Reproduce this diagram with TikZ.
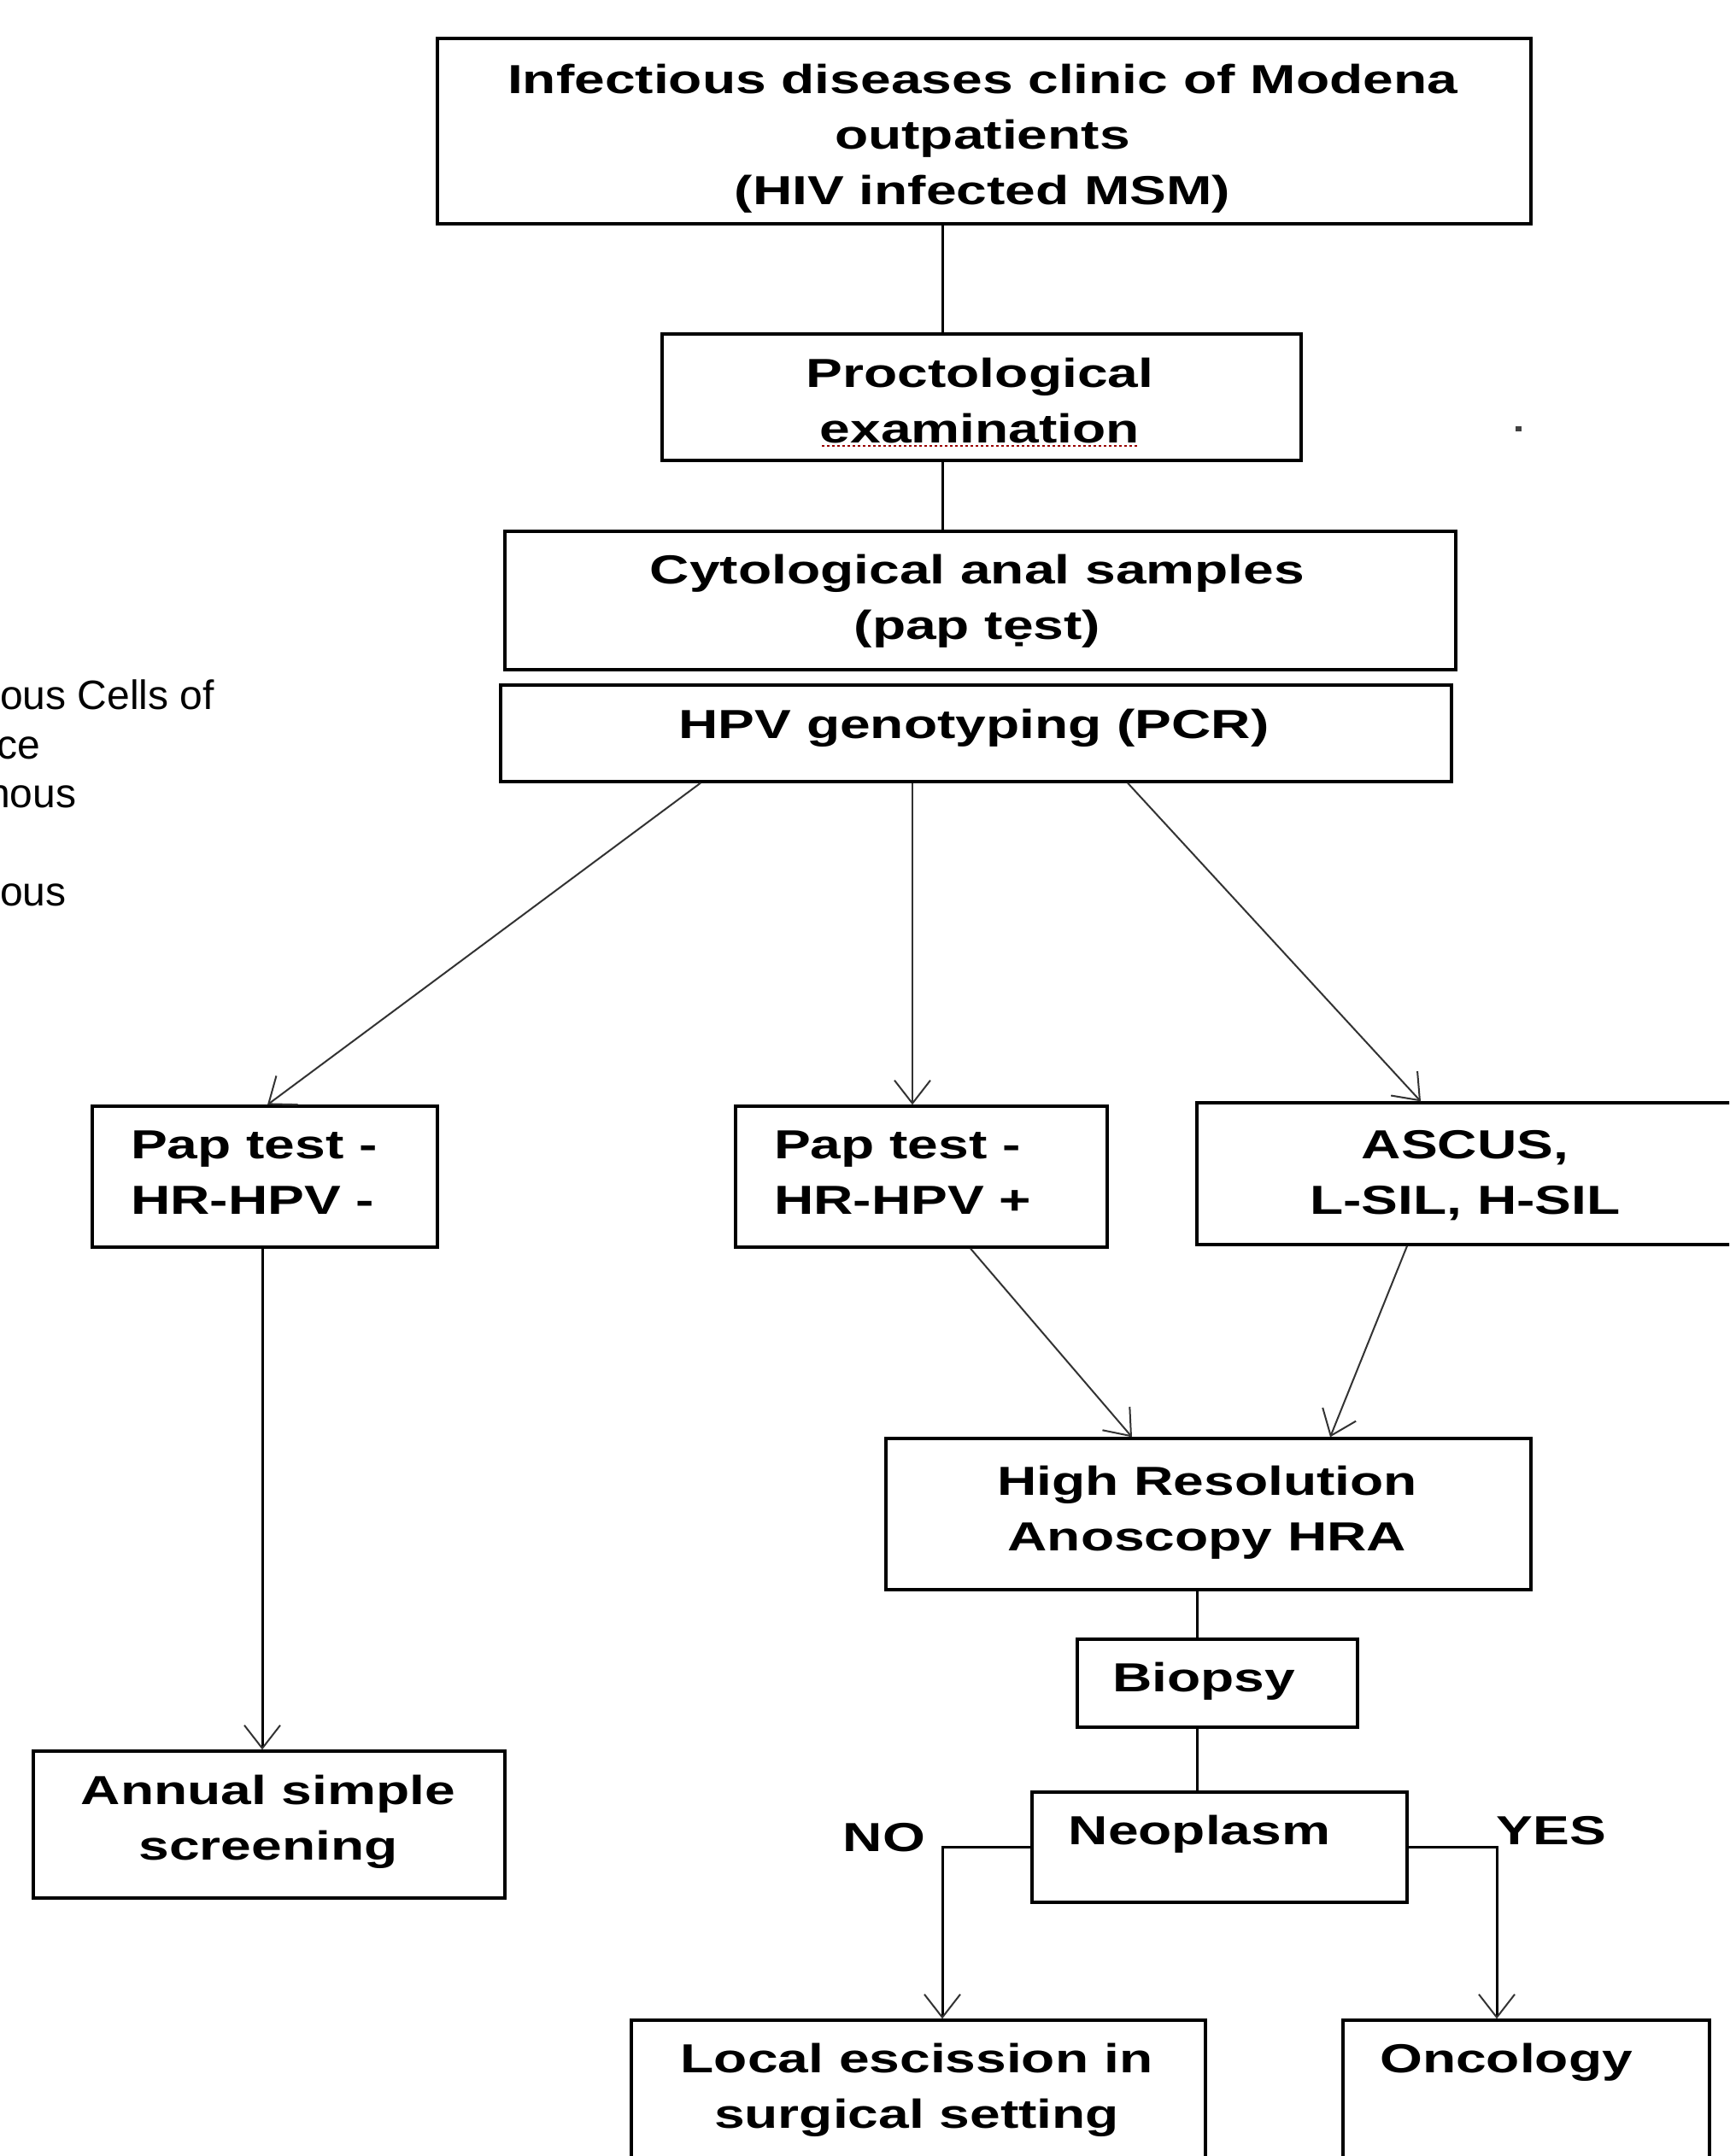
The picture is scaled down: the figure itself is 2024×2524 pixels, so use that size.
\documentclass[tikz,border=0pt]{standalone}
\usepackage{fontspec}
\setmainfont{Liberation Sans}
\newfontfamily\boxfont[FakeStretch=1.35]{Liberation Sans}
\usetikzlibrary{arrows.meta}
\newcommand\firststrut{\rule{0pt}{38pt}}
\tikzset{
  box/.style={draw, line width=3.3pt, inner sep=0pt},
  btxt/.style={font=\boxfont\bfseries\fontsize{47.5}{65}\selectfont, inner sep=0pt, align=center},
  conn/.style={line width=3pt},
  vtip/.style={-{Straight Barb[length=27pt,width=42pt,line width=2pt,color=black!80]}},
  arr/.style={line width=2pt, draw=black!80, vtip},
  conarr/.style={line width=3pt, vtip},
  frag/.style={font=\fontsize{48}{57}\selectfont, inner sep=0pt, anchor=base west}
}
\begin{document}
\begin{tikzpicture}[x=1pt,y=-1pt]
\useasboundingbox (0,0) rectangle (2024,2524);
\clip (0,0) rectangle (2024,2524);
\fill[white] (0,0) rectangle (2024,2524);

% boxes
\node[box, minimum width=1280pt, minimum height=217pt] (top) at (1152,153.5) {};
\node[box, minimum width=748pt, minimum height=148pt] (proc) at (1149,465) {};
\node[box, minimum width=1113pt, minimum height=162pt] (cyto) at (1147.5,703) {};
\node[box, minimum width=1113pt, minimum height=113pt] (hpv) at (1142.5,858.5) {};
\node[box, minimum width=404pt, minimum height=165pt] (pm) at (310,1377.5) {};
\node[box, minimum width=435pt, minimum height=165pt] (pp) at (1078.5,1377.5) {};
\node[box, minimum width=639pt, minimum height=166pt] (asc) at (1720.5,1374) {};
\node[box, minimum width=755pt, minimum height=177pt] (hra) at (1414.5,1772.5) {};
\node[box, minimum width=328pt, minimum height=103pt] (bio) at (1425,1970.5) {};
\node[box, minimum width=439pt, minimum height=129pt] (neo) at (1427.5,2162.5) {};
\node[box, minimum width=552pt, minimum height=172pt] (ann) at (315,2136) {};
\node[box, minimum width=672pt, minimum height=195pt] (loc) at (1075,2462.5) {};
\node[box, minimum width=429pt, minimum height=195pt] (onc) at (1786.5,2462.5) {};

% texts
\node[btxt, anchor=north] (toptx) at (1150,71) {\firststrut Infectious diseases clinic of Modena\\outpatients\\(HIV infected MSM)};
\node[btxt, anchor=north] (proctx) at (1147,415) {\firststrut Proctological\\examination};
\node[btxt, anchor=north] (cytotx) at (1144,645) {\firststrut Cytological anal samples\\(pap tẹst)};
\node[btxt, anchor=base] (hpvtx) at (1140,864) {HPV genotyping (PCR)};
\node[btxt, anchor=north west, align=left] (pmtx) at (153,1318) {\firststrut Pap test -\\HR-HPV -};
\node[btxt, anchor=north west, align=left] (pptx) at (906,1318) {\firststrut Pap test -\\HR-HPV +};
\node[btxt, anchor=north] (asctx) at (1715,1318) {\firststrut ASCUS,\\L-SIL, H-SIL};
\node[btxt, anchor=north] (hratx) at (1413,1712) {\firststrut High Resolution\\Anoscopy HRA};
\node[btxt, anchor=base] (biotx) at (1409,1980) {Biopsy};
\node[btxt, anchor=base] (neotx) at (1404,2159) {Neoplasm};
\node[btxt, anchor=north] (anntx) at (314,2074) {\firststrut Annual simple\\screening};
\node[btxt, anchor=north] (loctx) at (1073,2388) {\firststrut Local escission in\\surgical setting};
\node[btxt, anchor=base] (onctx) at (1763,2426) {Oncology};
\node[btxt, anchor=base] (notx) at (1035,2167) {NO};
\node[btxt, anchor=base] (yestx) at (1816,2159) {YES};

% clipped fragments at left
\node[frag] (f1) at (0,830) {ous Cells of};
\node[frag] (f2) at (-4,888) {ce};
\node[frag] (f3) at (-15,945) {nous};
\node[frag] (f4) at (0,1060) {ous};

% spell-check underline and stray dot
\draw[red!60!black, line width=2pt, dash pattern=on 3pt off 3pt] (962,522) -- (1333,522);
\fill[black!75] (1774,499) rectangle (1781,505);

% connectors
\coordinate (c1) at ([xshift=-49pt]top.south);
\draw[conn] (c1) -- (c1 |- proc.north);
\coordinate (c2) at ([xshift=-46pt]proc.south);
\draw[conn] (c2) -- (c2 |- cyto.north);

\coordinate (h1) at ([xshift=-322.5pt]hpv.south);
\coordinate (h2) at ([xshift=-74.5pt]hpv.south);
\coordinate (h3) at ([xshift=177.5pt]hpv.south);
\draw[arr] (h1) -- ([xshift=3pt]pm.north);
\draw[arr] (h2) -- (h2 |- pp.north);
\draw[arr] (h3) -- ([xshift=-57.5pt]asc.north);

\coordinate (p1) at ([xshift=-3pt]pm.south);
\draw[conarr] (p1) -- (p1 |- ann.north);

\draw[arr] ([xshift=57.5pt]pp.south) -- ([xshift=-89.5pt]hra.north);
\draw[arr] ([xshift=-73.5pt]asc.south) -- ([xshift=142.5pt]hra.north);

\coordinate (r1) at ([xshift=-13.5pt]hra.south);
\draw[conn] (r1) -- (r1 |- bio.north);
\coordinate (r2) at ([xshift=-24pt]bio.south);
\draw[conn] (r2) -- (r2 |- neo.north);

\draw[conarr] (neo.west) -| ([xshift=28pt]loc.north);
\draw[conarr] (neo.east) -| ([xshift=-34.5pt]onc.north);
\end{tikzpicture}
\end{document}
